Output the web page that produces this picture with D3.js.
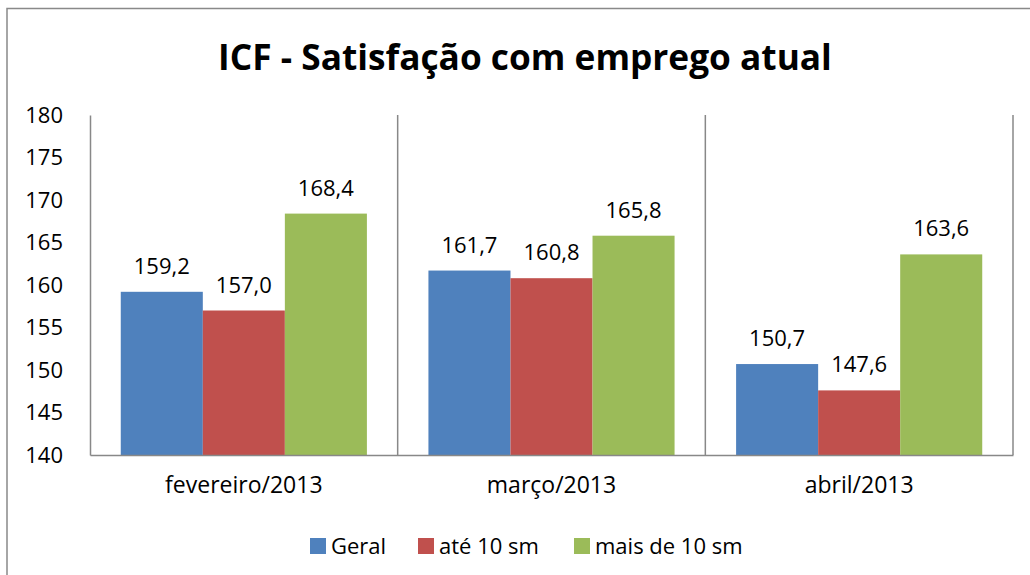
<!DOCTYPE html>
<html>
<head>
<meta charset="utf-8">
<script src="https://cdn.jsdelivr.net/npm/d3@7"></script>
<style>
  body { margin: 0; background: #fff; }
  text { font-family: "Open Sans", "Noto Sans", sans-serif; fill: #000; }
</style>
</head>
<body>
<div id="vis"></div>
<script>
// data
let months = ["fevereiro/2013", "março/2013", "abril/2013"]
let seriesNames = ["Geral", "até 10 sm", "mais de 10 sm"]
let geral = [159.2, 161.7, 150.7]
let ate10 = [157.0, 160.8, 147.6]
let mais10 = [168.4, 165.8, 163.6]
let yTicks = [140, 145, 150, 155, 160, 165, 170, 175, 180]
let colors = ["#4F81BD", "#C0504D", "#9BBB59"]

let svgWidth = 1030
let svgHeight = 575

let margin = { left: 90, right: 17, top: 115, bottom: 120 }
let width = svgWidth - margin.left - margin.right
let height = svgHeight - margin.top - margin.bottom

let svg = d3.select('#vis')
    .append('svg')
    .attr('width', svgWidth)
    .attr('height', svgHeight)

// outer chart border
svg.append('rect')
    .attr('x', 7).attr('y', 8.5)
    .attr('width', 1040).attr('height', 600)
    .attr('fill', 'none')
    .attr('stroke', '#898989')
    .attr('stroke-width', 1.5)

// title, fitted to width
let title = svg.append('text')
    .attr('x', 525).attr('y', 70)
    .attr('text-anchor', 'middle')
    .attr('font-weight', 'bold')
    .attr('font-size', 36)
    .text('ICF - Satisfação com emprego atual')
let tw = title.node().getComputedTextLength()
title.attr('font-size', 36 * 614 / tw)

let g = svg.append('g')
    .attr('transform', `translate(${margin.left},${margin.top})`)

let rows = months.map((m, i) => ({ month: m, values: [geral[i], ate10[i], mais10[i]] }))

let xScale = d3.scaleBand()
    .domain(months)
    .range([0, width])
    .paddingInner(0)
    .paddingOuter(0)

let x1 = d3.scaleBand()
    .domain(seriesNames)
    .range([xScale.bandwidth() * 0.1, xScale.bandwidth() * 0.9])

let yScale = d3.scaleLinear()
    .domain([140, 180])
    .range([height, 0])

// category separators
g.selectAll('.sep')
    .data(months)
    .join('line')
    .attr('class', 'sep')
    .attr('x1', d => xScale(d) + xScale.bandwidth())
    .attr('x2', d => xScale(d) + xScale.bandwidth())
    .attr('y1', 0).attr('y2', height)
    .attr('stroke', '#888').attr('stroke-width', 1.5)

// bars
let groups = g.selectAll('.grp')
    .data(rows)
    .join('g')
    .attr('class', 'grp')
    .attr('transform', d => `translate(${xScale(d.month)},0)`)

groups.selectAll('rect')
    .data(d => d.values.map((v, k) => ({ name: seriesNames[k], v: v, k: k })))
    .join('rect')
    .attr('x', d => x1(d.name))
    .attr('width', x1.bandwidth())
    .attr('y', d => yScale(d.v))
    .attr('height', d => height - yScale(d.v))
    .attr('fill', d => colors[d.k])

groups.selectAll('.lbl')
    .data(d => d.values.map((v, k) => ({ name: seriesNames[k], v: v, k: k })))
    .join('text')
    .attr('class', 'lbl')
    .attr('x', d => x1(d.name) + x1.bandwidth() / 2)
    .attr('y', d => yScale(d.v) - 18)
    .attr('text-anchor', 'middle')
    .attr('font-size', 22)
    .text(d => d.v.toFixed(1).replace('.', ','))

// axes
let yAxis = d3.axisLeft(yScale)
    .tickValues(yTicks)
    .tickSize(0)
    .tickPadding(27)

g.append('g')
    .attr('id', 'y-axis')
    .call(yAxis)
    .call(a => a.select('.domain').attr('stroke', '#888').attr('stroke-width', 1.5))
    .selectAll('text')
    .attr('font-size', 22)
    .attr('font-family', '"Open Sans", sans-serif')

let xAxis = d3.axisBottom(xScale)
    .tickSize(0)
    .tickPadding(22)

g.append('g')
    .attr('id', 'x-axis')
    .attr('transform', `translate(0,${height})`)
    .call(xAxis)
    .call(a => a.select('.domain').attr('stroke', '#888').attr('stroke-width', 1.5))
    .selectAll('text')
    .attr('font-size', 23)
    .attr('font-family', '"Open Sans", sans-serif')

// legend
let legendX = [310, 418, 574]
let legend = svg.append('g')
let items = legend.selectAll('g')
    .data(seriesNames)
    .join('g')
    .attr('transform', (d, i) => `translate(${legendX[i]},538)`)
items.append('rect')
    .attr('width', 16).attr('height', 16)
    .attr('fill', (d, i) => colors[i])
items.append('text')
    .attr('x', 21).attr('y', 16)
    .attr('font-size', 22)
    .text(d => d)
</script>
</body>
</html>
